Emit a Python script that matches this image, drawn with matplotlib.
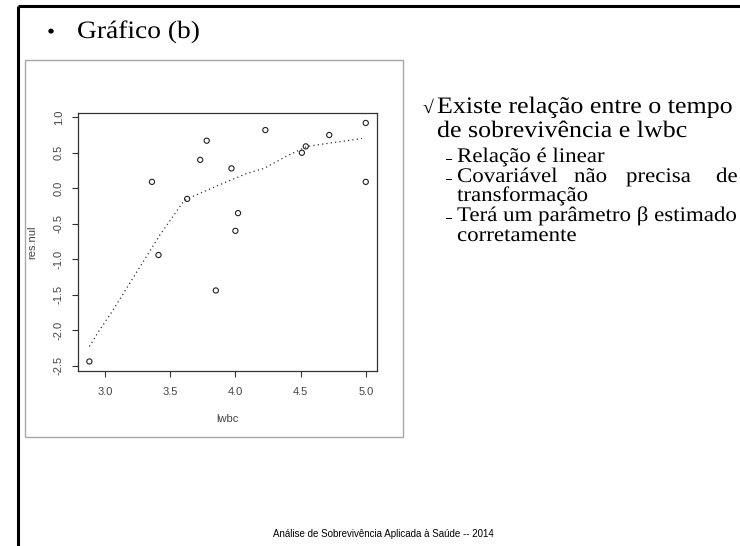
import matplotlib
matplotlib.use("Agg")
import matplotlib.pyplot as plt
from matplotlib.patches import Rectangle
from matplotlib.patheffects import AbstractPathEffect
from matplotlib.transforms import Affine2D

# data
lwbc = [2.88, 3.36, 3.41, 3.63, 3.73, 3.78, 3.85, 3.97, 4.00, 4.02,
        4.23, 4.51, 4.54, 4.72, 5.00, 5.00]
res_nul = [-2.44, 0.09, -0.94, -0.15, 0.40, 0.67, -1.44, 0.28, -0.60, -0.35,
           0.82, 0.50, 0.59, 0.75, 0.92, 0.09]

# smoothed (lowess) curve
smooth_x = [2.88, 2.95, 3.06, 3.25, 3.38, 3.42, 3.52, 3.60, 3.63, 3.78,
            3.88, 4.09, 4.22, 4.39, 4.55, 4.70, 4.97]
smooth_y = [-2.23, -2.02, -1.72, -1.16, -0.78, -0.66, -0.40, -0.19, -0.15, -0.03,
            0.05, 0.21, 0.28, 0.45, 0.59, 0.63, 0.70]

x_ticks = [3.0, 3.5, 4.0, 4.5, 5.0]
y_ticks = [1.0, 0.5, 0.0, -0.5, -1.0, -1.5, -2.0, -2.5]


class Stretch(AbstractPathEffect):
    """Widen glyphs a little (the slide text is slightly stretched in the source)."""

    def __init__(self, sx):
        super().__init__()
        self.sx = sx

    def draw_path(self, renderer, gc, tpath, affine, rgbFace=None):
        renderer.draw_path(gc, tpath, Affine2D().scale(self.sx, 1) + affine, rgbFace)


W, H = 740, 546
fig = plt.figure(figsize=(W / 100, H / 100), dpi=100, facecolor="white")

# slide layer in pixel coordinates (y downwards)
bg = fig.add_axes([0, 0, 1, 1])
bg.set_xlim(0, W)
bg.set_ylim(H, 0)
bg.axis("off")

serif = "Liberation Serif"
sans = "Liberation Sans"


def slide_text(x, y, s, fs, sx=1.1, **kw):
    bg.text(x, y, s, fontsize=fs, family=serif, va="baseline", ha="left",
            path_effects=[Stretch(sx)], **kw)


# slide border
bg.plot([18, W + 5], [6, 6], color="black", lw=2.2, solid_capstyle="butt")
bg.plot([18, 18], [6, H + 5], color="black", lw=2.2, solid_capstyle="butt")

# title
slide_text(47, 38, "\u2022", 15)
slide_text(77, 38, "Gráfico (b)", 18)

# frame of the pasted R picture
bg.add_patch(Rectangle((25, 60), 378, 377, facecolor="none",
                       edgecolor="#a8a8a8", lw=1.0))

# right-hand text
main_fs = 17
slide_text(423, 113, "\u221a", 13)
slide_text(437, 113, "Existe relação entre o tempo", main_fs)
slide_text(437, 137, "de sobrevivência e lwbc", main_fs)

sub_fs = 15
rows = [162, 182, 201, 221, 241]
for yb in [rows[0], rows[1], rows[3]]:
    slide_text(446, yb, "\u2013", 8)
slide_text(457, rows[0], "Relação é linear", sub_fs)
slide_text(457, rows[1], "Covariável", sub_fs)
slide_text(574, rows[1], "não", sub_fs)
slide_text(626, rows[1], "precisa", sub_fs)
slide_text(716, rows[1], "de", sub_fs)
slide_text(457, rows[2], "transformação", sub_fs)
slide_text(457, rows[3], "Terá um parâmetro β estimado", sub_fs)
slide_text(457, rows[4], "corretamente", sub_fs)

# footer
bg.text(383, 534, "Análise de Sobrevivência Aplicada à Saúde -- 2014",
        fontsize=7, family=sans, ha="center", va="center")

# the R scatter plot
ax = fig.add_axes([78.3 / W, 1 - 370.7 / H, 298.4 / W, 257.4 / H])
ax.scatter(lwbc, res_nul, s=14, facecolors="none", edgecolors="#222222", linewidths=0.8)
ax.plot(smooth_x, smooth_y, color="#333333", lw=0.9, linestyle=(0, (1, 2.5)))
ax.set_xlim(2.795, 5.084)
ax.set_ylim(-2.57, 1.056)
ax.set_xticks(x_ticks)
ax.set_yticks(y_ticks)
ax.set_xticklabels([f"{v:.1f}" for v in x_ticks], family=sans, fontsize=8, color="#444444")
ax.set_yticklabels([f"{v:.1f}" for v in y_ticks], family=sans, fontsize=8, color="#444444",
                   rotation=90, va="center")
ax.tick_params(direction="out", length=4.3, width=0.8, color="#333333")
ax.tick_params(axis="x", pad=7.5)
ax.tick_params(axis="y", pad=6)
for s in ax.spines.values():
    s.set_color("#333333")
    s.set_linewidth(0.9)
ax.set_xlabel("lwbc", family=sans, fontsize=8, color="#444444", labelpad=12)
ax.set_ylabel("res.nul", family=sans, fontsize=8, color="#444444", labelpad=12)

fig.savefig("out.png", dpi=100, facecolor="white")
